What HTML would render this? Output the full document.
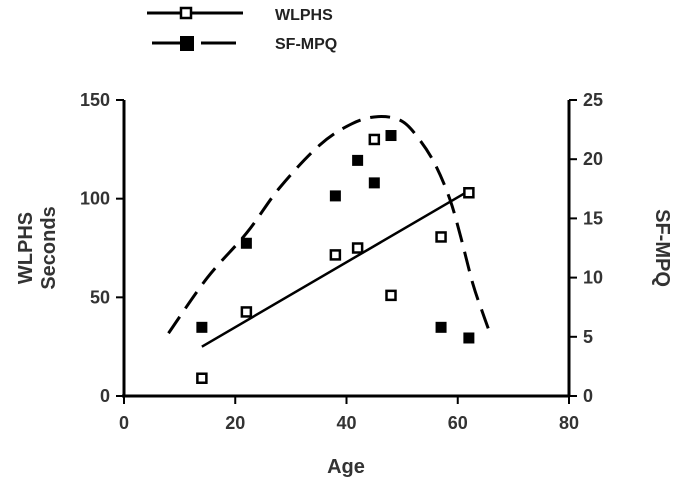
<!DOCTYPE html>
<html><head><meta charset="utf-8"><style>
body{margin:0;background:#fff;font-family:"Liberation Sans",sans-serif}
</style></head><body>
<svg id="chart" width="689" height="488" viewBox="0 0 689 488"></svg>
<script>
const ages=[14,22,38,42,45,48,57,62];
const wlphs=[9,42.6,71.5,75,130,51,80.6,103];
const sfmpqAges=[14,22,38,42,45,48,57,62];
const sfmpq=[5.8,12.9,16.9,19.9,18,22,5.8,4.9];
const fitLineAges=[14,62];
const fitLineVals=[25,104];
const curveAges=[8,15,22.1,28,35.2,41,45.7,50,53.2,56,58.6,60.5,62.7,64.5,65.8];
const curveVals=[5.3,10,13.8,17.6,21.2,23,23.6,23.2,21.6,19.5,16.6,13.5,9.5,7,5.3];
const xTicks=[0,20,40,60,80];
const yTicks=[0,50,100,150];
const y2Ticks=[0,5,10,15,20,25];
const NS="http://www.w3.org/2000/svg";
const svg=document.getElementById('chart');
const X=v=>124+v*(569-124)/80;
const Y=v=>396-v*(396-100)/150;
const Y2=v=>396-v*(396-100)/25;
function mk(t,a,txt){const e=document.createElementNS(NS,t);for(const k in a)e.setAttribute(k,a[k]);if(txt!=null)e.textContent=txt;svg.appendChild(e);return e;}
let e;
const TC='#333';
e=mk('line',{x1:124,y1:100,x2:124,y2:397,stroke:'#000','stroke-width':3});

e=mk('line',{x1:569,y1:100,x2:569,y2:397,stroke:'#000','stroke-width':3});

e=mk('line',{x1:122,y1:396,x2:570,y2:396,stroke:'#000','stroke-width':3});

xTicks.forEach(t=>{
 e=mk('line',{x1:X(t),y1:396,x2:X(t),y2:404,stroke:'#000','stroke-width':2});
 
 e=mk('text',{x:X(t),y:429,'text-anchor':'middle','font-size':18,'font-weight':'bold',fill:TC},t);
 
});
yTicks.forEach(t=>{
 e=mk('line',{x1:116,y1:Y(t),x2:124,y2:Y(t),stroke:'#000','stroke-width':2});
 
 e=mk('text',{x:110,y:Y(t)+6,'text-anchor':'end','font-size':18,'font-weight':'bold',fill:TC},t);
 
});
y2Ticks.forEach(t=>{
 e=mk('line',{x1:569,y1:Y2(t),x2:577,y2:Y2(t),stroke:'#000','stroke-width':2});
 
 e=mk('text',{x:583,y:Y2(t)+6,'text-anchor':'start','font-size':18,'font-weight':'bold',fill:TC},t);
 
});
e=mk('text',{x:346,y:473,'text-anchor':'middle','font-size':20,'font-weight':'bold',fill:TC},'Age');

e=mk('text',{transform:'translate(32,248) rotate(-90)','text-anchor':'middle','font-size':20,'font-weight':'bold',fill:TC},'WLPHS');

e=mk('text',{transform:'translate(55,248) rotate(-90)','text-anchor':'middle','font-size':20,'font-weight':'bold',fill:TC},'Seconds');

e=mk('text',{transform:'translate(656,248) rotate(90)','text-anchor':'middle','font-size':20,'font-weight':'bold',fill:TC},'SF-MPQ');

// smooth curve (Catmull-Rom)
const P=curveAges.map((a,i)=>[X(a),Y2(curveVals[i])]);
let d='M'+P[0][0]+' '+P[0][1];
for(let i=0;i<P.length-1;i++){
 const p0=P[Math.max(0,i-1)],p1=P[i],p2=P[i+1],p3=P[Math.min(P.length-1,i+2)];
 const c1=[p1[0]+(p2[0]-p0[0])/6,p1[1]+(p2[1]-p0[1])/6];
 const c2=[p2[0]-(p3[0]-p1[0])/6,p2[1]-(p3[1]-p1[1])/6];
 d+=' C'+c1[0]+' '+c1[1]+' '+c2[0]+' '+c2[1]+' '+p2[0]+' '+p2[1];
}
e=mk('path',{d:d,fill:'none',stroke:'#000','stroke-width':3,'stroke-dasharray':'20 10'});

e=mk('line',{x1:X(fitLineAges[0]),y1:Y(fitLineVals[0]),x2:X(fitLineAges[1]),y2:Y(fitLineVals[1]),stroke:'#000','stroke-width':2.5});

ages.forEach((a,i)=>{
 e=mk('rect',{x:X(a)-4.5,y:Y(wlphs[i])-4.5,width:9,height:9,fill:'#fff',stroke:'#000','stroke-width':2.5});
 
});
sfmpqAges.forEach((a,i)=>{
 e=mk('rect',{x:X(a)-5.5,y:Y2(sfmpq[i])-5.5,width:11,height:11,fill:'#000'});
 
});
// legend
e=mk('line',{x1:147,y1:13,x2:243,y2:13,stroke:'#000','stroke-width':3});

e=mk('rect',{x:181,y:8,width:10,height:10,fill:'#fff',stroke:'#000','stroke-width':2.5});

e=mk('text',{x:275,y:20,'font-size':16,'font-weight':'bold',fill:'#222'},'WLPHS');

e=mk('line',{x1:152,y1:43,x2:190,y2:43,stroke:'#000','stroke-width':3});

e=mk('line',{x1:201,y1:43,x2:236,y2:43,stroke:'#000','stroke-width':3});

e=mk('rect',{x:180,y:36,width:14,height:15,fill:'#000'});

e=mk('text',{x:275,y:49,'font-size':16,'font-weight':'bold',fill:'#222'},'SF-MPQ');

</script>
</body></html>
